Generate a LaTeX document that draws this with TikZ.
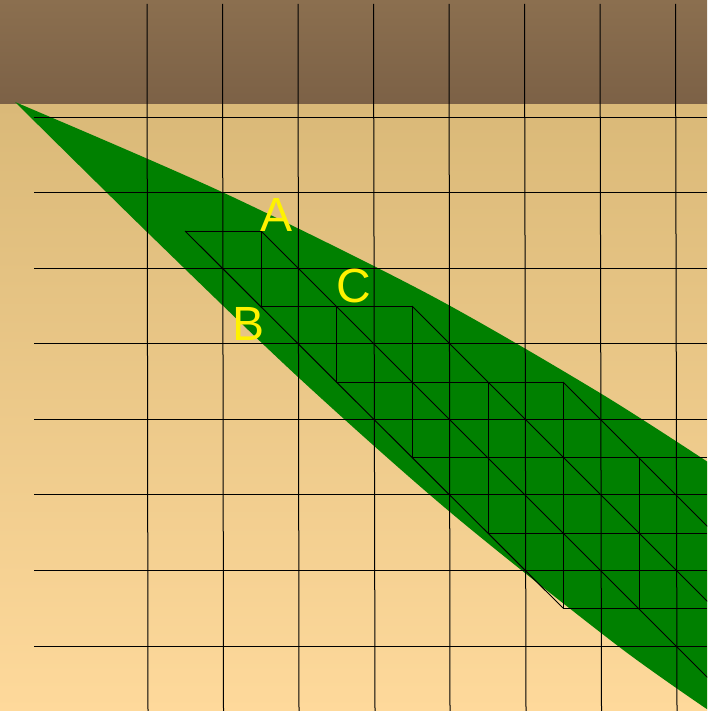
\documentclass[tikz,border=0pt]{standalone}
\usepackage{fontspec}
\setmainfont{Liberation Sans}
\definecolor{groundtop}{HTML}{DAB978}
\definecolor{groundbottom}{HTML}{FED99B}
\definecolor{walltop}{HTML}{8B6F4F}
\definecolor{wallbottom}{HTML}{7C6146}
\definecolor{wedgegreen}{HTML}{008000}
\begin{document}
\begin{tikzpicture}[
		x=1pt,
		y=-1pt,
		gridline/.style={draw=black,line width=1pt},
		meshline/.style={draw=black,line width=1pt},
		vertexlabel/.style={anchor=base,text=yellow,inner sep=0pt,font=\fontsize{48}{48}\selectfont}
	]
	\useasboundingbox (0,0) rectangle (707,711);
	\clip (0,0) rectangle (707,711);
	% ground and wall
	\fill[top color=groundtop,bottom color=groundbottom] (0,104) rectangle (707,711);
	\fill[top color=walltop,bottom color=wallbottom] (0,0) rectangle (707,104);
	% wedge
	\fill[wedgegreen] (15,102)
		-- plot[smooth] coordinates {(15,102) (222,192) (430,295) (600,393) (720,470)}
		-- (720,720)
		-- plot[smooth] coordinates {(720,718) (618,646) (450,512) (298,377) (147,232) (15,102)}
		-- cycle;
	% grid
	\foreach \x/\xb in {147/148,222.5/223.5,298/299,373.5/375,449/450,524.5/526,600/601.5,675.5/677}
		\draw[gridline] (\x,4) -- (\xb,711);
	\foreach \y in {117.5,192.5,268,343.5,419,494.5,570.5,646}
		\draw[gridline] (34,\y) -- (707,\y);
	% mesh
	\foreach \y/\a/\b in {231/185/261,306/261/412,382/336/563,457.5/412/707,533/488/707,608/563/707}
		\draw[meshline] (\a,\y) -- (\b,\y);
	\foreach \x/\a/\b in {261/231/306,336/306/382,412/306/457.5,488/382/533,563/382/608,639/457.5/608}
		\draw[meshline] (\x,\a) -- (\x,\b);
	\foreach \x/\y/\xb/\yb in {185/231/563/608,261/231/741/711,412/306/741/635,563/382/741/560}
		\draw[meshline] (\x,\y) -- (\xb,\yb);
	% labels
	\node[vertexlabel] (labelA) at (276.5,231) {A};
	\node[vertexlabel] (labelB) at (248.5,340) {B};
	\node[vertexlabel] (labelC) at (353.5,302) {C};
\end{tikzpicture}
\end{document}
